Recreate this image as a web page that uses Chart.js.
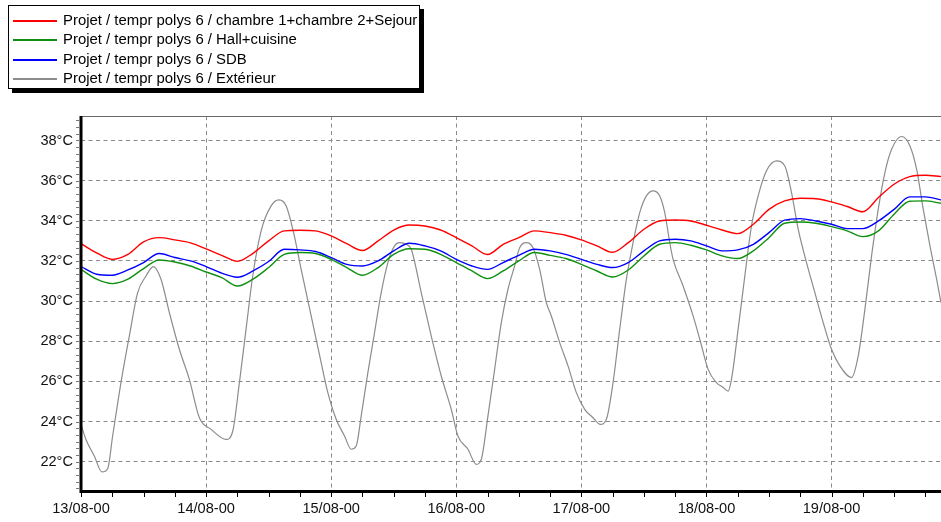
<!DOCTYPE html>
<html>
<head>
<meta charset="utf-8">
<title>Projet / tempr polys 6</title>
<script src="https://cdn.jsdelivr.net/npm/chart.js@4.4.0/dist/chart.umd.min.js"></script>
<style>
  html, body { margin: 0; padding: 0; background: #fff; }
  #wrap { position: relative; width: 941px; height: 522px; overflow: hidden; }
  #chart { position: absolute; left: 0; top: 0; }
  #legend {
    position: absolute; left: 8px; top: 5px; width: 410px; height: 82px;
    border: 1px solid #000; background: #fff; box-shadow: 4px 4px 0 #000;
    font: 14.9px "Liberation Sans", Arial, sans-serif; color: #000;
  }
  #legend .row { position: absolute; left: 0; height: 19px; line-height: 19px; white-space: nowrap; }
  #legend .row i { position: absolute; left: 4px; top: 9px; width: 44px; height: 2px; }
  #legend .row span { position: absolute; left: 54px; top: 0; }
</style>
</head>
<body>
<div id="wrap">
  <canvas id="chart" width="941" height="522"></canvas>
  <div id="legend"></div>
</div>
<script>
// Time axis: hours since 13/08 00:00
const hours = [0,3,6,9,12,15,18,21,24,27,30,33,36,39,42,45,48,51,54,57,60,63,66,69,72,75,78,81,84,87,90,93,96,99,102,105,108,111,114,117,120,123,126,129,132,135,138,141,144,147,150,153,156,159,162,165];

// Indoor temperatures (°C)
const chambresSejour = [32.86,32.40,32.08,32.33,32.95,33.16,33.05,32.90,32.60,32.28,
  31.98,32.38,33.00,33.50,33.53,33.50,33.25,32.86,32.52,33.00,
  33.54,33.79,33.74,33.54,33.16,32.75,32.32,32.83,33.16,33.50,
  33.41,33.28,33.05,32.75,32.43,32.91,33.58,33.99,34.04,33.99,
  33.78,33.54,33.36,33.83,34.57,34.99,35.12,35.10,34.94,34.71,
  34.45,35.16,35.82,36.20,36.27,36.20];
const hallCuisine = [31.58,31.09,30.87,31.09,31.62,32.05,31.95,31.75,31.45,31.17,
  30.75,31.09,31.67,32.33,32.42,32.37,32.08,31.67,31.29,31.67,
  32.33,32.61,32.58,32.33,31.92,31.50,31.12,31.50,32.00,32.42,
  32.28,32.12,31.83,31.50,31.20,31.55,32.25,32.83,32.91,32.78,
  32.55,32.25,32.12,32.50,33.16,33.88,33.94,33.88,33.71,33.50,
  33.21,33.50,34.33,34.97,34.99,34.87];
const sdb = [31.72,31.34,31.29,31.55,31.92,32.37,32.17,32.00,31.72,31.39,
  31.19,31.50,31.97,32.58,32.55,32.47,32.17,31.83,31.75,32.00,
  32.50,32.88,32.75,32.50,32.08,31.75,31.58,31.92,32.28,32.58,
  32.50,32.33,32.08,31.83,31.67,31.92,32.50,33.00,33.08,33.00,
  32.75,32.50,32.55,32.83,33.41,34.03,34.11,33.99,33.83,33.61,
  33.61,33.99,34.57,35.19,35.19,35.04];

// Outdoor temperature (°C), sampled at its own instants
const extHours = [0,0.95,2.55,4.03,5.11,6.07,7.67,9.27,10.87,12.47,13.88,15.35,16.95,18.87,20.79,22.71,24.96,27.84,29.12,30.39,
  31.67,32.95,34.56,36.48,37.95,39.36,40.8,42.24,44.16,46.08,47.36,48.96,50.56,51.84,52.8,53.76,55.04,56.32,57.6,58.88,
  60.16,61.12,62.4,63.36,65.28,67.2,69.12,71.04,72.32,74.24,75.84,76.8,78.08,79.36,80.64,81.92,83.2,84.16,85.44,86.72,
  88,89.28,90.24,91.84,93.44,95.04,96.64,98.24,99.65,100.8,102.08,103.36,104.64,105.92,107.2,108.48,109.76,111.04,112,112.96,
  113.6,115.52,117.44,118.72,120.32,121.92,123.2,124.16,124.8,126.08,127.36,128.64,129.92,131.52,133.44,135.04,136.32,137.6,139.2,140.8,
  142.4,144,145.6,147.84,149.12,150.4,151.68,152.96,154.24,155.52,157.44,159.04,160.32,161.6,162.88,164.16,165];
const exterieur = [23.86,23.11,22.28,21.49,21.65,23.28,25.94,28.26,30.42,31.25,31.72,31.09,29.43,27.6,26.1,24.19,23.61,23.11,23.53,25.94,
  28.6,31.25,33.5,34.74,35.04,34.74,33.4,31.58,29.26,26.93,25.44,24.11,23.28,22.62,22.78,24.28,26.44,28.43,30.42,31.92,
  32.75,32.91,32.83,32.58,30.42,28.26,26.27,24.61,23.28,22.62,21.87,22.12,24.28,26.6,28.93,30.59,31.75,32.66,32.91,32.66,
  31.58,29.92,29.26,27.93,26.77,25.44,24.61,24.19,23.86,24.11,25.94,28.6,31.09,32.91,34.41,35.24,35.49,35.24,34.41,32.91,
  32.08,30.75,29.26,28.1,26.6,25.94,25.7,25.52,26.1,28.6,31.25,33.74,35.24,36.49,36.98,36.73,35.4,33.58,31.92,30.42,
  28.93,27.6,26.77,26.19,27.27,29.59,32.25,34.57,36.4,37.56,38.2,37.73,36.57,34.57,32.75,31.09,29.92];

// Axis ticks
const dayTicks = [0,24,48,72,96,120,144];
const dayLabels = ['13/08-00','14/08-00','15/08-00','16/08-00','17/08-00','18/08-00','19/08-00'];
const tempTicks = [22,24,26,28,30,32,34,36,38];
const tempLabels = ['22°C','24°C','26°C','28°C','30°C','32°C','34°C','36°C','38°C'];

const seriesNames = [
  'Projet / tempr polys 6 / chambre 1+chambre 2+Sejour',
  'Projet / tempr polys 6 / Hall+cuisine',
  'Projet / tempr polys 6 / SDB',
  'Projet / tempr polys 6 / Extérieur'
];
const seriesColors = ['#ff0000', '#109010', '#0000ff', '#8c8c8c'];

const toPoints = (xs, ys) => ys.map((y, i) => ({ x: xs[i], y }));

// HTML legend
const legend = document.getElementById('legend');
seriesNames.forEach((name, i) => {
  const row = document.createElement('div');
  row.className = 'row';
  row.style.top = (4.5 + i * 19.5) + 'px';
  const sample = document.createElement('i');
  sample.style.backgroundColor = seriesColors[i];
  const label = document.createElement('span');
  label.textContent = name;
  row.appendChild(sample);
  row.appendChild(label);
  legend.appendChild(row);
});

// Axis frame and small tick marks
const framePlugin = {
  id: 'frame',
  afterDatasetsDraw(chart) {
    const { ctx, chartArea: a, scales } = chart;
    const xs = scales.x, ys = scales.y;
    ctx.save();
    // top edge
    ctx.strokeStyle = '#6a6a6a';
    ctx.lineWidth = 1;
    ctx.beginPath();
    ctx.moveTo(a.left, a.top + 0.5);
    ctx.lineTo(a.right, a.top + 0.5);
    ctx.stroke();
    // small ticks along the value axis
    ctx.strokeStyle = '#777';
    for (let k = -4; k <= 51; k++) {
      const v = 22 + k * 2 / 6;
      if (v < ys.min || v > ys.max) continue;
      const y = Math.round(ys.getPixelForValue(v)) + 0.5;
      ctx.beginPath();
      ctx.moveTo(a.left - 5, y);
      ctx.lineTo(a.left - 2, y);
      ctx.stroke();
    }
    // 6-hour ticks below the time axis
    ctx.strokeStyle = '#000';
    for (let h = 0; h <= 162; h += 6) {
      const x = Math.round(xs.getPixelForValue(h)) + 0.5;
      ctx.beginPath();
      ctx.moveTo(x, a.bottom);
      ctx.lineTo(x, a.bottom + 6);
      ctx.stroke();
    }
    // heavy left and bottom axes
    ctx.lineWidth = 3;
    ctx.strokeStyle = '#000';
    ctx.beginPath();
    ctx.moveTo(a.left, a.top);
    ctx.lineTo(a.left, a.bottom + 2);
    ctx.moveTo(a.left - 1.5, a.bottom + 0.5);
    ctx.lineTo(a.right, a.bottom + 0.5);
    ctx.stroke();
    ctx.restore();
  }
};

Chart.defaults.font.family = '"Liberation Sans", Arial, sans-serif';
Chart.defaults.font.size = 14.6;
Chart.defaults.color = '#111';

const gridOpts = { color: '#8a8a8a', lineWidth: 1, drawTicks: false };
const borderOpts = { display: false, dash: [4, 3.5] };

new Chart(document.getElementById('chart'), {
  type: 'line',
  data: {
    datasets: [
      { label: seriesNames[0], data: toPoints(hours, chambresSejour), borderColor: seriesColors[0], borderWidth: 1.4 },
      { label: seriesNames[1], data: toPoints(hours, hallCuisine), borderColor: seriesColors[1], borderWidth: 1.4 },
      { label: seriesNames[2], data: toPoints(hours, sdb), borderColor: seriesColors[2], borderWidth: 1.4 },
      { label: seriesNames[3], data: toPoints(extHours, exterieur), borderColor: seriesColors[3], borderWidth: 1.2 }
    ]
  },
  options: {
    responsive: false,
    animation: false,
    devicePixelRatio: 1,
    layout: { padding: { top: 116, left: 0, right: 0, bottom: 0 } },
    elements: {
      point: { radius: 0 },
      line: { cubicInterpolationMode: 'monotone', fill: false }
    },
    plugins: { legend: { display: false }, tooltip: { enabled: false } },
    scales: {
      x: {
        type: 'linear', position: 'bottom', min: 0, max: 165,
        afterBuildTicks: (s) => { s.ticks = dayTicks.map(v => ({ value: v })); },
        afterFit: (s) => { s.height = 31; },
        ticks: { padding: 9, maxRotation: 0, autoSkip: false, callback: (v, i) => dayLabels[i] },
        grid: gridOpts,
        border: borderOpts
      },
      y: {
        type: 'linear', position: 'left', min: 20.54, max: 39.22,
        afterBuildTicks: (s) => { s.ticks = tempTicks.map(v => ({ value: v })); },
        afterFit: (s) => { s.width = 81; },
        ticks: { padding: 8, autoSkip: false, callback: (v, i) => tempLabels[i] },
        grid: gridOpts,
        border: borderOpts
      }
    }
  },
  plugins: [framePlugin]
});
</script>
</body>
</html>
